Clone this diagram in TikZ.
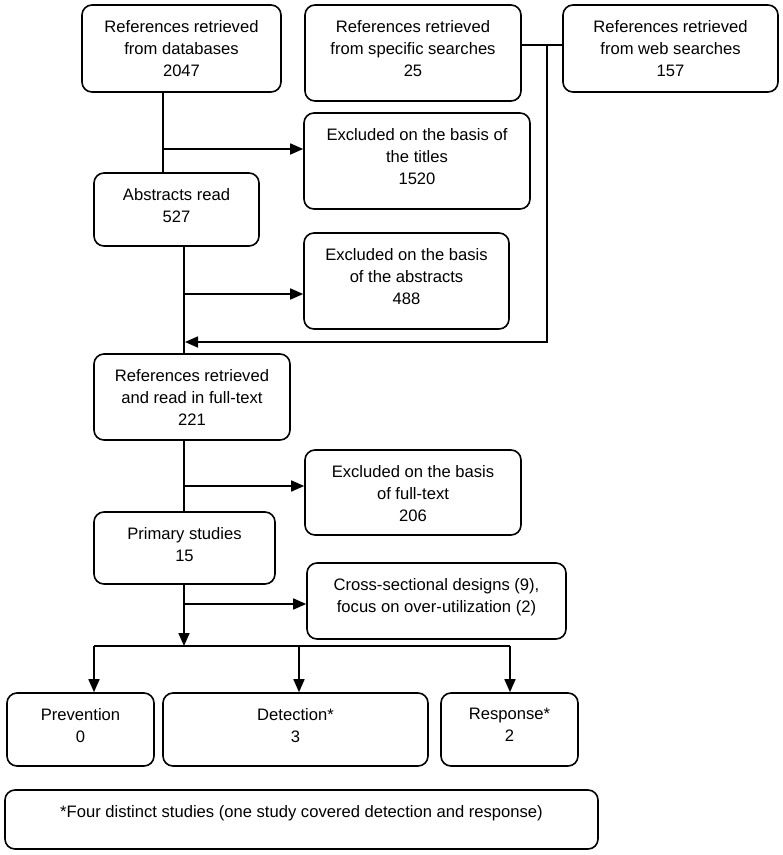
\documentclass[tikz,border=0pt]{standalone}
\usepackage{fontspec}
\setmainfont{Liberation Sans}
\usetikzlibrary{arrows.meta,positioning}

\begin{document}
\begin{tikzpicture}[x=1pt, y=-1pt, line width=1.6pt,
    >={Triangle[length=13pt,width=11pt]},
    stage/.style={draw=black, rounded corners=10pt, line width=1.6pt},
    txt/.style={anchor=north, align=center, inner sep=0pt, yshift=-15pt,
                font=\fontsize{16.6pt}{22pt}\selectfont}]
   \useasboundingbox (0,0) rectangle (783,855);

   %sources
   \node[stage, minimum width=199pt, minimum height=87pt, label={[txt]90:References retrieved\\from databases\\2047}] (db) at (181.5,48.5) {};
   \node[stage, minimum width=216pt, minimum height=96pt, label={[txt]90:References retrieved\\from specific searches\\25}] (spec) at (413,53) {};
   \node[stage, minimum width=215pt, minimum height=87pt, label={[txt]90:References retrieved\\from web searches\\157}] (web) at (670.5,48.5) {};

   %screening
   \node[stage, minimum width=226pt, minimum height=96pt, label={[txt]90:Excluded on the basis of\\the titles\\1520}] (titles) at (417,161) {};
   \node[stage, minimum width=165pt, minimum height=73pt, label={[txt]90:Abstracts read\\527}] (abs) at (176.5,209.5) {};
   \node[stage, minimum width=205pt, minimum height=96pt, label={[txt]90:Excluded on the basis\\of the abstracts\\488}] (exabs) at (406.5,281) {};
   \node[stage, minimum width=196pt, minimum height=86pt, label={[txt]90:References retrieved\\and read in full-text\\221}] (full) at (192,397) {};
   \node[stage, minimum width=216pt, minimum height=85pt, label={[txt]90:Excluded on the basis\\of full-text\\206}] (exfull) at (413,492.5) {};
   \node[stage, minimum width=181pt, minimum height=72pt, label={[txt]90:Primary studies\\15}] (prim) at (184.5,548) {};
   \node[stage, minimum width=259pt, minimum height=76pt, label={[txt]90:Cross-sectional designs (9),\\focus on over-utilization (2)}] (cross) at (436.5,601) {};

   %categories
   \node[stage, minimum width=147pt, minimum height=73pt, label={[txt]90:Prevention\\0}] (prev) at (80.5,729.5) {};
   \node[stage, minimum width=265pt, minimum height=73pt, label={[txt]90:Detection*\\3}] (det) at (295.5,729.5) {};
   \node[stage, minimum width=137pt, minimum height=73pt, label={[txt]90:Response*\\2}] (resp) at (509.5,729.5) {};
   \node[stage, minimum width=593pt, minimum height=59pt, label={[txt]90:*Four distinct studies (one study covered detection and response)}] (note) at (301.5,819.5) {};

   %junctions
   \coordinate (j1) at (163,149);
   \coordinate (j2) at (184,294);
   \coordinate (j3) at (184,486);
   \coordinate (j4) at (184,604);
   \coordinate (side) at (547,45);
   \coordinate (back) at (185,342);
   \coordinate (split) at (184,646);
   \coordinate (dprev) at (94,646);
   \coordinate (ddet) at (299,646);
   \coordinate (dresp) at (510,646);

   \draw (j1 |- db.south) -- (j1 |- abs.north);
   \draw (j2 |- abs.south) -- (j2 |- full.north);
   \draw (j3 |- full.south) -- (j3 |- prim.north);
   \draw (side -| spec.east) -- (side -| web.west);
   \draw[->] (side) |- (back);
   \draw[->] (j4 |- prim.south) -- (split);
   \draw (dprev) -- (dresp);

  \path[->]
    (j1) edge (j1 -| titles.west)
    (j2) edge (j2 -| exabs.west)
    (j3) edge (j3 -| exfull.west)
    (j4) edge (j4 -| cross.west)

    %split into categories
    (dprev) edge (dprev |- prev.north)
    (ddet) edge (ddet |- det.north)
    (dresp) edge (dresp |- resp.north);
\end{tikzpicture}
\end{document}
